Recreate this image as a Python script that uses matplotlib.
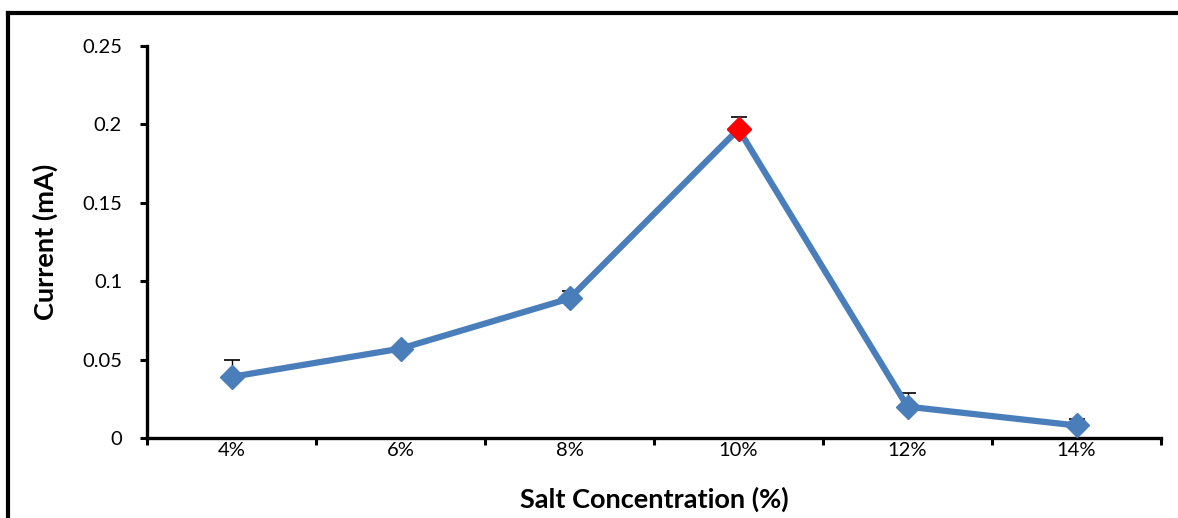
import matplotlib
matplotlib.use("Agg")
import matplotlib.pyplot as plt
from matplotlib.lines import Line2D

categories = ["4%", "6%", "8%", "10%", "12%", "14%"]
current = [0.039, 0.057, 0.089, 0.197, 0.020, 0.008]
err_up = [0.011, 0.002, 0.005, 0.008, 0.009, 0.004]
yticks = [0, 0.05, 0.1, 0.15, 0.2, 0.25]
ytick_labels = ["0", "0.05", "0.1", "0.15", "0.2", "0.25"]

plt.rcParams['font.family'] = ['Lato', 'DejaVu Sans']

fig = plt.figure(figsize=(11.78, 5.18), dpi=100)
ax = fig.add_axes([0.1248, 0.1544, 0.8608, 0.7568])

x = list(range(len(categories)))
ax.errorbar(x, current, yerr=[[0]*len(x), err_up], fmt='none', ecolor='black',
            elinewidth=1.0, capsize=6, capthick=1.2, zorder=2)
ax.plot(x, current, color='#4A7EBB', lw=4.5, marker='D', markersize=12.5,
        markerfacecolor='#4A7EBB', markeredgecolor='#4A7EBB', zorder=3)
peak = current.index(max(current))
ax.plot([x[peak]], [current[peak]], marker='D', markersize=12.5, color='red',
        markeredgecolor='red', linestyle='none', zorder=4)

ax.set_xlim(-0.5, len(x) - 0.5)
ax.set_ylim(0, 0.25)
ax.set_yticks(yticks)
ax.set_yticklabels(ytick_labels)
ax.set_xticks(x)
ax.set_xticklabels(categories)
ax.set_xticks([i - 0.5 for i in range(len(x) + 1)], minor=True)
ax.tick_params(axis='x', which='major', length=0, pad=3, labelsize=14.5)
ax.tick_params(axis='x', which='minor', length=5, width=2.2, direction='out')
ax.tick_params(axis='y', length=5, width=2.2, direction='out', labelsize=14.5, pad=13)

for s in ['top', 'right']:
    ax.spines[s].set_visible(False)
for s in ['left', 'bottom']:
    ax.spines[s].set_linewidth(2.4)

ax.set_ylabel("Current (mA)", fontsize=19.5, fontweight='bold', labelpad=17)
ax.set_xlabel("Salt Concentration (%)", fontsize=19.5, fontweight='bold', labelpad=20)

# outer frame (top and left)
fig.add_artist(Line2D([8/1178, 1.0], [1 - 13/518, 1 - 13/518], color='black', lw=3,
                      transform=fig.transFigure))
fig.add_artist(Line2D([8/1178, 8/1178], [1 - 13/518, 0], color='black', lw=3,
                      transform=fig.transFigure))

fig.savefig("out.png", dpi=100)
